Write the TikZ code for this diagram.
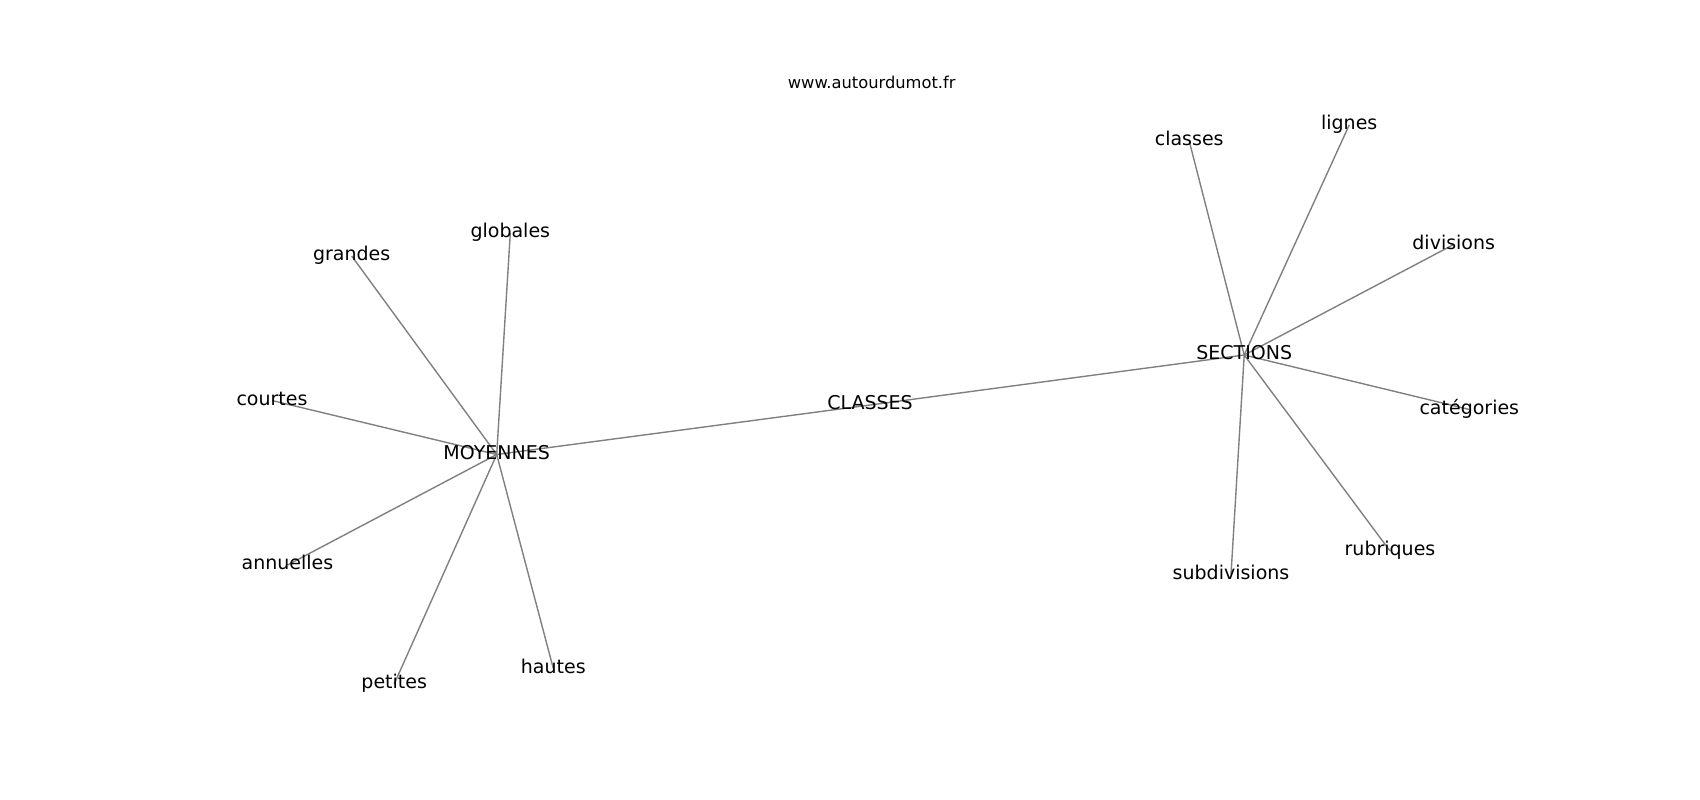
\documentclass[tikz,border=0pt]{standalone}
\usepackage{xcolor}
\usepackage{fontspec}
\setmainfont{DejaVu Sans}
\usepackage{tikz}
\usetikzlibrary{backgrounds}
\tikzset{amtword/.style={font=\fontsize{19}{22}\selectfont,inner sep=0pt,text height=14.4pt,text depth=4.5pt,anchor=center}}
\tikzset{amtedge/.style={color=black!50,line width=1.4pt}}

\begin{document}
\begin{tikzpicture}[x=1pt,y=-1pt]
    \useasboundingbox (0,0) rectangle (1700,800);

    \node [font=\fontsize{16.3}{19}\selectfont,inner sep=0pt,text height=12.4pt,text depth=3.8pt] (titre) at (871.7,84) {www.autourdumot.fr};

    \node [amtword] (classesc) at (870,405) {CLASSES};
    \node [amtword] (moyennes) at (496.7,454.5) {MOYENNES};
    \node [amtword] (sections) at (1244.2,355) {SECTIONS};

    \node [amtword] (grandes) at (351.7,256) {grandes};
    \node [amtword] (globales) at (510.3,233) {globales};
    \node [amtword] (courtes) at (272,400.5) {courtes};
    \node [amtword] (annuelles) at (287.5,565) {annuelles};
    \node [amtword] (petites) at (394.2,684) {petites};
    \node [amtword] (hautes) at (553.3,668.5) {hautes};

    \node [amtword] (classes) at (1189.2,141) {classes};
    \node [amtword] (lignes) at (1349.2,125) {lignes};
    \node [amtword] (divisions) at (1453.7,244.5) {divisions};
    \node [amtword] (categories) at (1469.3,409.5) {catégories};
    \node [amtword] (rubriques) at (1390,551) {rubriques};
    \node [amtword] (subdivisions) at (1231,574.5) {subdivisions};

    % edges under the words
    \begin{scope}[on background layer]
    \draw [amtedge] (moyennes.center) -- (classesc.center);
    \draw [amtedge] (classesc.center) -- (sections.center);
    \foreach \w in {grandes,globales,courtes,annuelles,petites,hautes}
        \draw [amtedge] (moyennes.center) -- (\w.center);
    \foreach \w in {classes,lignes,divisions,categories,rubriques,subdivisions}
        \draw [amtedge] (sections.center) -- (\w.center);
    \end{scope}
\end{tikzpicture}
\end{document}
